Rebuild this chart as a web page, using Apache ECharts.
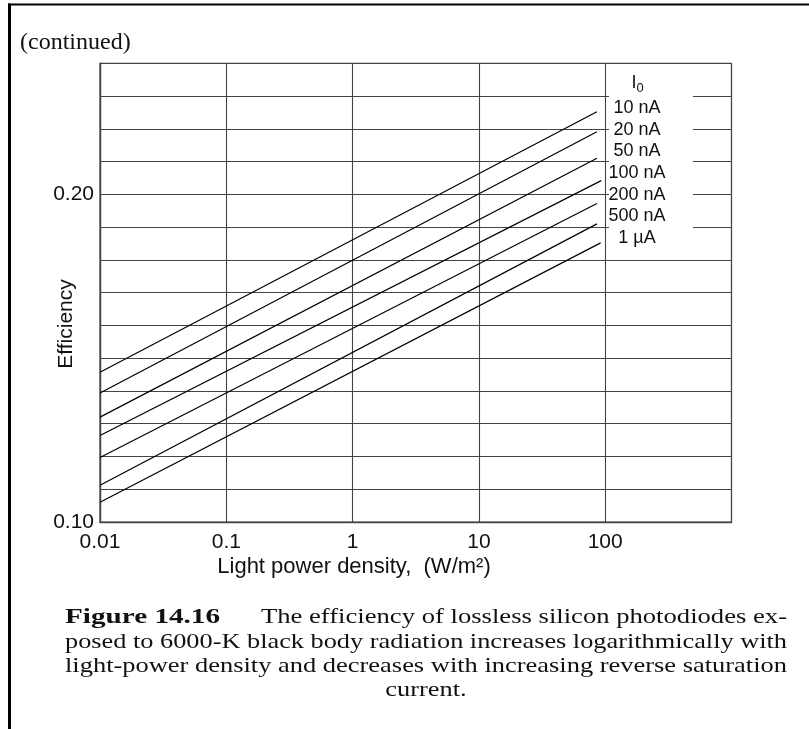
<!DOCTYPE html>
<html>
<head>
<meta charset="utf-8">
<script src="https://cdn.jsdelivr.net/npm/echarts@6/dist/echarts.min.js"></script>
<style>
html,body{margin:0;padding:0;background:#fff;}
#chart{width:809px;height:729px;}
</style>
</head>
<body>
<div id="chart"></div>
<script>
// ---- data ----
const currentLabels = ['10 nA', '20 nA', '50 nA', '100 nA', '200 nA', '500 nA', '1 µA'];
const densityStart = 0.01;
const densityEnd = [86, 86, 86, 93, 86, 86, 92];
const effAtStart = [0.1457, 0.1394, 0.1320, 0.1264, 0.1197, 0.1112, 0.1060];
const effAtEnd = [0.2252, 0.2191, 0.2110, 0.2042, 0.1972, 0.1910, 0.1852];
const xTickLabels = ['0.01', '0.1', '1', '10', '100'];
const yTickLabels = ['0.10', '0.20'];
const xAxisTitle = 'Light power density,  (W/m²)';
const yAxisTitle = 'Efficiency';
const legendTitle = 'I';
const legendSub = '0';
const topNote = '(continued)';
const captionBold = 'Figure 14.16';
const captionLines = [
  'The efficiency of lossless silicon photodiodes ex-',
  'posed to 6000-K black body radiation increases logarithmically with',
  'light-power density and decreases with increasing reverse saturation',
  'current.'
];

const chart = echarts.init(document.getElementById('chart'), null, {renderer: 'canvas'});
const sans = 'Liberation Sans, Arial, Helvetica, sans-serif';
const serif = 'Liberation Serif, Times New Roman, serif';
const gridColor = '#444';

const series = currentLabels.map((name, i) => ({
  name: name,
  type: 'line',
  symbol: 'none',
  silent: true,
  animation: false,
  lineStyle: {color: '#000', width: 1.2},
  data: [[densityStart, effAtStart[i]], [densityEnd[i], effAtEnd[i]]],
  z: 3
}));

// text measuring for the justified caption (each line stretched to the block width)
const mctx = document.createElement('canvas').getContext('2d');
function textWidth(font, s) { mctx.font = font; return mctx.measureText(s).width; }
function fitLine(text, font, x0, x1, y) {
  const w = textWidth(font, text);
  return {type: 'text', x: x0, y: y, scaleX: (x1 - x0) / w, z: 50,
    style: {text: text, font: font, fill: '#111', align: 'left', verticalAlign: 'middle'}};
}

const capFont = '22px ' + serif;
const capBoldFont = 'bold 22px ' + serif;
const graphics = [];
// frame
graphics.push({type: 'line', shape: {x1: 8, y1: 4.5, x2: 809, y2: 4.5}, style: {stroke: '#000', lineWidth: 2.2}, z: 50});
graphics.push({type: 'line', shape: {x1: 9.5, y1: 3.5, x2: 9.5, y2: 729}, style: {stroke: '#000', lineWidth: 3}, z: 50});
graphics.push({type: 'text', x: 20, y: 43, style: {text: topNote, font: '24px ' + serif, fill: '#111', align: 'left', verticalAlign: 'middle'}, z: 50});
// white field behind the legend column
graphics.push({type: 'rect', shape: {x: 609, y: 64.5, width: 84, height: 186}, style: {fill: '#fff'}, z: 40});
graphics.push({type: 'text', x: 631.5, y: 83, style: {text: legendTitle, font: '18px ' + sans, fill: '#111', align: 'left', verticalAlign: 'middle'}, z: 50});
graphics.push({type: 'text', x: 636.5, y: 88, style: {text: legendSub, font: '13px ' + sans, fill: '#111', align: 'left', verticalAlign: 'middle'}, z: 50});
currentLabels.forEach((name, i) => {
  graphics.push({type: 'text', x: 637, y: 108 + i * 21.7, style: {text: name, font: '18px ' + sans, fill: '#111', align: 'center', verticalAlign: 'middle'}, z: 50});
});
// axis titles
graphics.push({type: 'text', x: 354, y: 567, style: {text: xAxisTitle, font: '22px ' + sans, fill: '#111', align: 'center', verticalAlign: 'middle'}, z: 50});
graphics.push({type: 'text', x: 66.5, y: 324, rotation: Math.PI / 2, style: {text: yAxisTitle, font: '21px ' + sans, fill: '#111', align: 'center', verticalAlign: 'middle'}, z: 50});
// caption
graphics.push(fitLine(captionBold, capBoldFont, 65, 220, 617));
const l1 = fitLine(captionLines[0], capFont, 261, 787, 617);
const l2 = fitLine(captionLines[1], capFont, 65, 787, 642);
const l3 = fitLine(captionLines[2], capFont, 65, 787, 666);
graphics.push(l1, l2, l3);
const avgScale = (l2.scaleX + l3.scaleX) / 2;
graphics.push({type: 'text', x: 426, y: 690, scaleX: avgScale, z: 50,
  style: {text: captionLines[3], font: capFont, fill: '#111', align: 'center', verticalAlign: 'middle'}});

const option = {
  animation: false,
  backgroundColor: '#fff',
  grid: {left: 100, right: 77.5, top: 63.3, bottom: 207, show: true, borderColor: gridColor, borderWidth: 1.2, backgroundColor: 'transparent'},
  xAxis: {
    type: 'log', logBase: 10, min: 0.01, max: 1000,
    axisLine: {show: true, lineStyle: {color: gridColor, width: 1.4}},
    axisTick: {show: false},
    splitLine: {show: true, lineStyle: {color: gridColor, width: 1.1}},
    axisLabel: {
      color: '#111', fontSize: 21, fontFamily: sans, margin: 10, showMaxLabel: true,
      formatter: v => { const s = String(parseFloat(Number(v).toPrecision(3))); return xTickLabels.includes(s) ? s : ''; }
    }
  },
  yAxis: {
    type: 'value', min: 0.10, max: 0.24, interval: 0.01,
    axisLine: {show: true, lineStyle: {color: gridColor, width: 1.4}},
    axisTick: {show: false},
    splitLine: {show: true, lineStyle: {color: gridColor, width: 1.1}},
    axisLabel: {
      color: '#111', fontSize: 21, fontFamily: sans, margin: 6,
      formatter: v => { const s = Number(v).toFixed(2); return yTickLabels.includes(s) ? s : ''; }
    }
  },
  series: series,
  graphic: graphics
};
chart.setOption(option);
</script>
</body>
</html>
